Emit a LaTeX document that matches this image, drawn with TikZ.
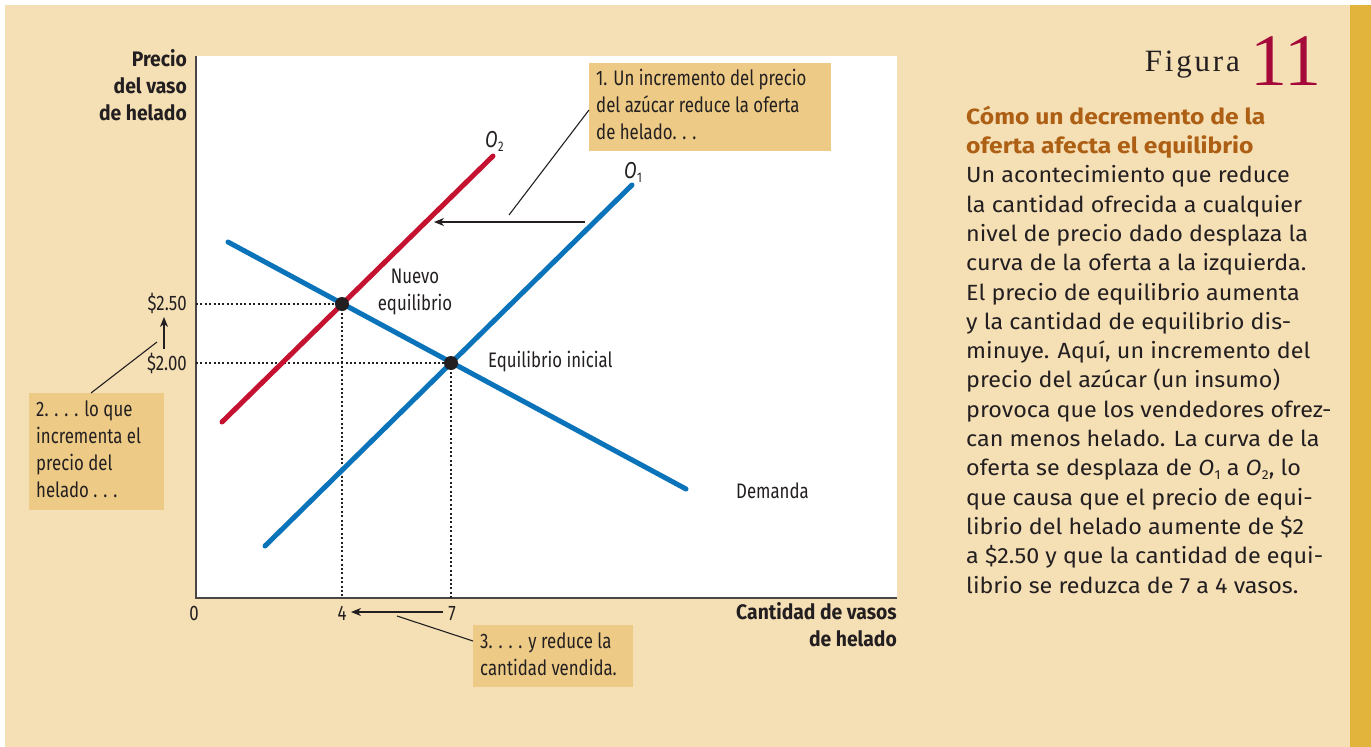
\documentclass[tikz,border=0pt]{standalone}
\usepackage{fontspec}
\setmainfont{Fira Sans}[FakeStretch=1.06]
\newfontfamily\cond[FakeStretch=0.8]{Fira Sans}
\newfontfamily\condb[FakeStretch=0.92]{Fira Sans Bold}
\newfontfamily\headfont[FakeStretch=1.12]{Fira Sans Bold}
\newfontfamily\figfont[LetterSpace=9]{Liberation Serif}
\newfontfamily\numfont{Liberation Serif}
\usetikzlibrary{arrows.meta}
\definecolor{bg}{HTML}{F5DFB5}
\definecolor{strip}{HTML}{E3B43C}
\definecolor{callbg}{HTML}{EDCB86}
\definecolor{cblue}{HTML}{0A73B9}
\definecolor{cred}{HTML}{C41230}
\definecolor{ink}{HTML}{231F20}
\definecolor{axisgray}{HTML}{4A4646}
\definecolor{headc}{HTML}{AD5F14}
\definecolor{figred}{HTML}{A5093A}
\newcommand{\Osub}[3]{{\itshape O}\kern0.3pt\lower#2\hbox{\fontsize{#1}{#1}\selectfont #3}}
\begin{document}
\begin{tikzpicture}[x=1pt,y=-1pt,
  chart/.style={text=ink,inner sep=0pt,font=\cond\fontsize{21}{26.7}\selectfont},
  axtitle/.style={text=ink,inner sep=0pt,align=right,font=\condb\fontsize{21}{27}\selectfont},
  curve/.style={line width=5pt,line cap=round},
  dotline/.style={line width=2.2pt,dash pattern=on 2pt off 2.4pt,ink},
  callbox/.style={fill=callbg,inner sep=0pt,anchor=north west},
  calltext/.style={chart,align=left,anchor=base west},
  leader/.style={ink,line width=1.1pt},
  arr/.style={ink,line width=1.2pt,-{Stealth[length=10pt,width=8pt,inset=3pt]}},
  eqdot/.style={circle,fill=ink,inner sep=0pt,minimum size=14pt}]
\useasboundingbox (0,0) rectangle (1371,747);
\fill[white] (0,0) rectangle (1371,747);
\fill[bg] (5,5) rectangle (1350,747);
\fill[strip] (1350,5) rectangle (1371,747);
\fill[white] (196,56) rectangle (897,598);

% axes
\coordinate (ytop) at (196,56);
\coordinate (orig) at (196,598);
\coordinate (xend) at (897,598);
\draw[axisgray,line width=2pt] (ytop) -- (orig) -- (xend);

% curve end points
\coordinate (d1) at (228,242);
\coordinate (d2) at (686,489);
\coordinate (o1a) at (265,546);
\coordinate (o1b) at (632,185);
\coordinate (o2a) at (222,422);
\coordinate (o2b) at (493,156);
\coordinate (eqn) at (342,304);
\coordinate (eqi) at (451,363);

% dotted guides
\draw[dotline] (eqn -| orig) -- (eqn);
\draw[dotline] (eqn) -- (eqn |- orig);
\draw[dotline] (eqi -| orig) -- (eqi);
\draw[dotline] (eqi) -- (eqi |- orig);

% curves
\draw[curve,cblue] (d1) -- (d2);
\draw[curve,cblue] (o1a) -- (o1b);
\draw[curve,cred] (o2a) -- (o2b);
\node[eqdot] (pn) at (eqn) {};
\node[eqdot] (pi) at (eqi) {};

% curve labels
\node[chart,anchor=base west,font=\cond\fontsize{23}{26}\selectfont] (lo2) at (485,147) {\Osub{14}{4pt}{2}};
\node[chart,anchor=base west,font=\cond\fontsize{23}{26}\selectfont] (lo1) at (624,178) {\Osub{14}{4pt}{1}};
\node[chart,align=center,anchor=base] (lnew) at (415,310) {Nuevo\\equilibrio};
\node[chart,anchor=base west] (linit) at (488,367) {Equilibrio inicial};
\node[chart,anchor=base west] (ldem) at (736,498) {Demanda};

% tick labels
\node[chart,anchor=base east] (p250) at (187,310) {\$2.50};
\node[chart,anchor=base east] (p200) at (187,370) {\$2.00};
\node[chart,anchor=base] (q0) at (194,620) {0};
\node[chart,anchor=base] (q4) at (342,620) {4};
\node[chart,anchor=base] (q7) at (452,620) {7};

% axis titles
\node[axtitle,anchor=base east] (ytitle) at (187,120) {Precio\\del vaso\\de helado};
\node[axtitle,anchor=base east] (xtitle) at (897,646) {Cantidad de vasos\\de helado};

% callout 1
\node[callbox,minimum width=242pt,minimum height=88pt] (box1) at (589,63) {};
\node[calltext] (t1) at (596,139) {1. Un incremento del precio\\del azúcar reduce la oferta\\de helado. . .};
\coordinate (l1a) at (589,110);
\coordinate (l1b) at (509,215);
\draw[leader] (l1a) -- (l1b);
\coordinate (a1s) at (585,222);
\coordinate (a1e) at (434,222);
\draw[arr] (a1s) -- (a1e);

% callout 2
\node[callbox,minimum width=135pt,minimum height=117pt] (box2) at (29,393) {};
\node[calltext] (t2) at (36,497) {2. . . . lo que\\incrementa el\\precio del\\helado . . .};
\coordinate (l2a) at (91,393);
\coordinate (l2b) at (157,342);
\draw[leader] (l2a) -- (l2b);
\coordinate (a2s) at (164,349);
\coordinate (a2e) at (164,317);
\draw[arr] (a2s) -- (a2e);

% callout 3
\node[callbox,minimum width=160pt,minimum height=62pt] (box3) at (473,625) {};
\node[calltext] (t3) at (480,675) {3. . . . y reduce la\\cantidad vendida.};
\coordinate (l3a) at (473,641);
\coordinate (l3b) at (397,616);
\draw[leader] (l3a) -- (l3b);
\coordinate (a3s) at (443,612);
\coordinate (a3e) at (351,612);
\draw[arr] (a3s) -- (a3e);

% right panel
\node[text=ink,inner sep=0pt,anchor=base east,font=\figfont\fontsize{31}{31}\selectfont] (figw) at (1240,71) {Figura};
\node[text=figred,inner sep=0pt,anchor=base west,font=\numfont\fontsize{74}{74}\selectfont] (fign) at (1250,85) {11};
\node[text=ink,inner sep=0pt,anchor=base west,align=left,font=\fontsize{22}{29.3}\selectfont] (body) at (966,593) {%
{\color{headc}\headfont Cómo un decremento de la}\\
{\color{headc}\headfont oferta afecta el equilibrio}\\
Un acontecimiento que reduce\\
la cantidad ofrecida a cualquier\\
nivel de precio dado desplaza la\\
curva de la oferta a la izquierda.\\
El precio de equilibrio aumenta\\
y la cantidad de equilibrio dis-\\
minuye. Aquí, un incremento del\\
precio del azúcar (un insumo)\\
provoca que los vendedores ofrez-\\
can menos helado. La curva de la\\
oferta se desplaza de \Osub{13}{4pt}{1} a \Osub{13}{4pt}{2}, lo\\
que causa que el precio de equi-\\
librio del helado aumente de \$2\\
a \$2.50 y que la cantidad de equi-\\
librio se reduzca de 7 a 4 vasos.};
\end{tikzpicture}
\end{document}
